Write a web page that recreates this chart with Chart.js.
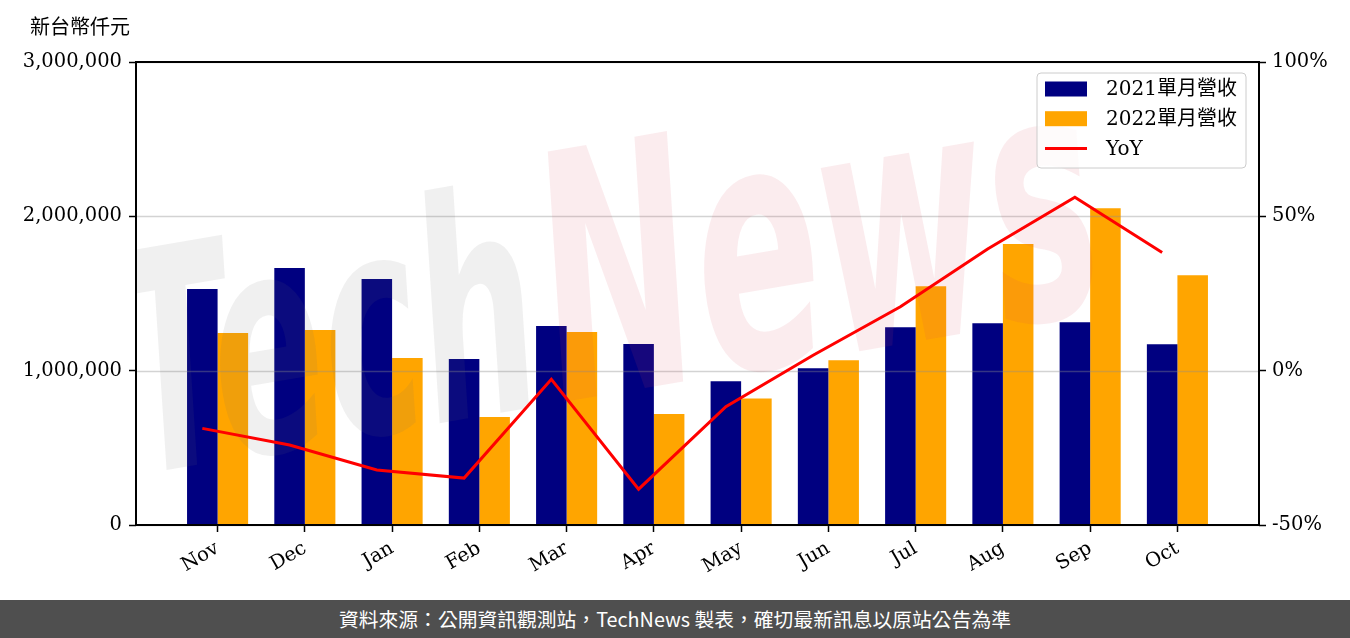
<!DOCTYPE html>
<html><head><meta charset="utf-8">
<script src="https://cdn.jsdelivr.net/npm/chart.js@4.4.0/dist/chart.umd.min.js"></script>
<style>
html,body{margin:0;padding:0;background:#fff;}
#wrap{width:1350px;height:600px;position:relative;}
#banner{width:1350px;height:38px;background:#4f4f4f;color:#fff;font:19.8px "Noto Sans CJK TC",sans-serif;text-align:center;line-height:38px;}
</style></head><body>
<div id="wrap"><canvas id="c" width="1350" height="600"></canvas></div>
<div id="banner">資料來源：公開資訊觀測站，TechNews 製表，確切最新訊息以原站公告為準</div>
<script>
// ---- data ----
const months = ['Nov','Dec','Jan','Feb','Mar','Apr','May','Jun','Jul','Aug','Sep','Oct'];
const rev2021 = [1529000,1665000,1594000,1076000,1289000,1173000,931000,1015000,1281000,1307000,1313000,1171000];
const rev2022 = [1244000,1263000,1082000,700000,1251000,719000,820000,1067000,1547000,1820000,2053000,1618000];
const yoy = [-18.7,-24.1,-32.2,-34.8,-2.8,-38.4,-11.7,5.0,20.7,39.4,56.2,38.3];
const leftTicks = [0,1000000,2000000,3000000];
const rightTicks = [-50,0,50,100];
const unitLabel = '新台幣仟元';
const seriesNames = ['2021單月營收','2022單月營收','YoY'];

// ---- style ----
const BAR_W = 0.35;           // bar width in category units
const SERIF = '"DejaVu Serif", "Noto Sans CJK TC", serif';
const tickFont = {family: SERIF, size: 19.5};

const decor = {
  id: 'decor',
  beforeDatasetDraw(chart, args) {
    if (args.index !== 2) return;
    const ctx = chart.ctx, ca = chart.chartArea, y = chart.scales.y;
    ctx.save();
    // grid
    ctx.strokeStyle = 'rgba(140,140,140,0.38)';
    ctx.lineWidth = 1.6;
    leftTicks.forEach(v => {
      const py = Math.round(y.getPixelForValue(v)) + 0.5;
      ctx.beginPath(); ctx.moveTo(ca.left, py); ctx.lineTo(ca.right, py); ctx.stroke();
    });
    // watermark
    ctx.beginPath(); ctx.rect(ca.left, ca.top, ca.right - ca.left, ca.bottom - ca.top); ctx.clip();
    ctx.translate(ca.left + 2, ca.bottom - 50);
    ctx.rotate(-0.17);
    ctx.scale(1, 1.85);
    ctx.font = 'bold italic 165px "DejaVu Sans"';
    ctx.fillStyle = 'rgba(110,110,110,0.10)';
    ctx.fillText('Tech', 0, 0);
    const w = ctx.measureText('Tech').width;
    ctx.font = 'bold italic 185px "DejaVu Sans"';
    ctx.fillStyle = 'rgba(220,70,90,0.10)';
    ctx.fillText('News', w + 10, 0);
    ctx.restore();
  },
  afterDatasetsDraw(chart) {
    const ctx = chart.ctx, ca = chart.chartArea;
    ctx.save();
    // frame
    ctx.strokeStyle = '#000'; ctx.lineWidth = 2;
    ctx.strokeRect(ca.left, ca.top, ca.right - ca.left, ca.bottom - ca.top);
    // unit label
    ctx.fillStyle = '#000';
    ctx.font = '20px ' + SERIF;
    ctx.textBaseline = 'middle';
    ctx.textAlign = 'left';
    ctx.fillText(unitLabel, ca.left - 106, ca.top - 33);
    // legend
    const bx = ca.right - 222, by = ca.top + 11, bw = 209, bh = 95;
    ctx.beginPath();
    ctx.roundRect(bx, by, bw, bh, 4);
    ctx.fillStyle = 'rgba(255,255,255,0.8)'; ctx.fill();
    ctx.strokeStyle = '#cccccc'; ctx.lineWidth = 1; ctx.stroke();
    chart.data.datasets.forEach((ds, i) => {
      const cy = by + 16 + i * 29.7;
      if (ds.type === 'line') {
        ctx.strokeStyle = ds.borderColor; ctx.lineWidth = 3;
        ctx.beginPath(); ctx.moveTo(bx + 8, cy); ctx.lineTo(bx + 50, cy); ctx.stroke();
      } else {
        ctx.fillStyle = ds.backgroundColor;
        ctx.fillRect(bx + 8, cy - 7.5, 42, 15);
      }
      ctx.fillStyle = '#000';
      ctx.font = '20px ' + SERIF;
      ctx.fillText(ds.label, bx + 69, cy + 1);
    });
    ctx.restore();
  }
};

new Chart(document.getElementById('c'), {
  type: 'bar',
  data: {
    datasets: [
      {label: seriesNames[0], data: rev2021.map((v, i) => ({x: i, y: v})), backgroundColor: '#000080', yAxisID: 'y', order: 1},
      {label: seriesNames[1], data: rev2022.map((v, i) => ({x: i, y: v})), backgroundColor: '#ffa500', yAxisID: 'y', order: 1},
      {type: 'line', label: seriesNames[2], data: yoy.map((v, i) => ({x: i - BAR_W / 2, y: v})), yAxisID: 'y1',
       borderColor: '#ff0000', borderWidth: 3, pointRadius: 0, tension: 0, fill: false, order: 0}
    ]
  },
  options: {
    responsive: false,
    animation: false,
    devicePixelRatio: 1,
    categoryPercentage: BAR_W * 2,
    barPercentage: 1.0,
    layout: {padding: {top: 62, left: 0, right: 0, bottom: 0}},
    plugins: {legend: {display: false}, tooltip: {enabled: false}},
    scales: {
      x: {
        type: 'linear', min: -0.935, max: 11.935, offset: false,
        afterBuildTicks: s => { s.ticks = months.map((m, i) => ({value: i})); },
        afterFit: s => { s.height = 75; },
        grid: {display: true, drawOnChartArea: false, drawTicks: true, tickLength: 7, tickColor: '#000', tickWidth: 1.5, offset: false},
        border: {display: false},
        ticks: {autoSkip: false, minRotation: 30, maxRotation: 30, padding: 5, color: '#000', font: tickFont,
                callback: v => months[v]}
      },
      y: {
        type: 'linear', position: 'left', min: 0, max: 3000000,
        afterBuildTicks: s => { s.ticks = leftTicks.map(v => ({value: v})); },
        afterFit: s => { s.width = 136; },
        grid: {drawOnChartArea: false, drawTicks: true, tickLength: 7, tickColor: '#000', tickWidth: 1.5},
        border: {display: false},
        ticks: {padding: 7, color: '#000', font: tickFont, callback: v => v.toLocaleString('en-US')}
      },
      y1: {
        type: 'linear', position: 'right', min: -50, max: 100,
        afterBuildTicks: s => { s.ticks = rightTicks.map(v => ({value: v})); },
        afterFit: s => { s.width = 91; },
        grid: {drawOnChartArea: false, drawTicks: true, tickLength: 7, tickColor: '#000', tickWidth: 1.5},
        border: {display: false},
        ticks: {padding: 6, color: '#000', font: tickFont, callback: v => v + '%'}
      }
    }
  },
  plugins: [decor]
});
</script>
</body></html>
